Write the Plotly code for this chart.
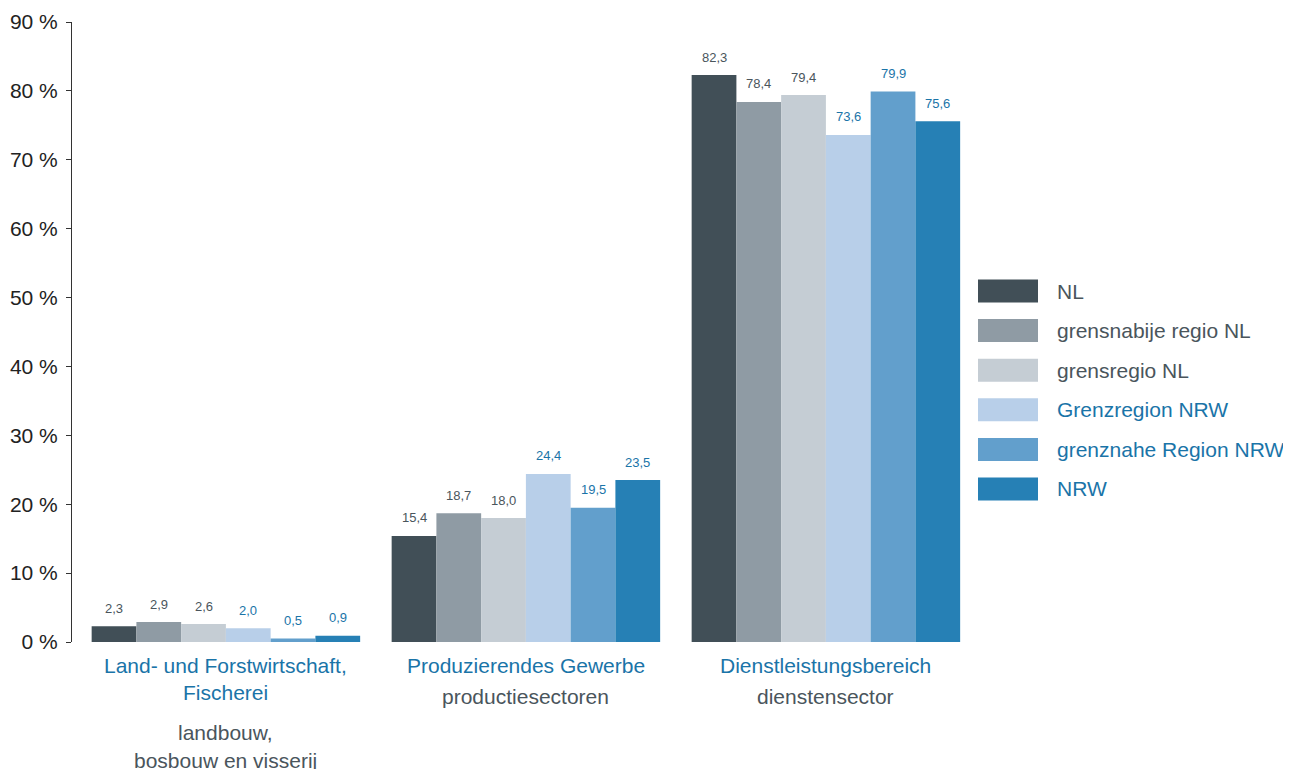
import plotly.graph_objects as go

categories = ["Land- und Forstwirtschaft", "Produzierendes Gewerbe", "Dienstleistungsbereich"]
german_lines = [["Land- und Forstwirtschaft,", "Fischerei"], ["Produzierendes Gewerbe"], ["Dienstleistungsbereich"]]
dutch_lines = [["landbouw,", "bosbouw en visserij"], ["productiesectoren"], ["dienstensector"]]

series_names = ["NL", "grensnabije regio NL", "grensregio NL",
                "Grenzregion NRW", "grenznahe Region NRW", "NRW"]
nl = [2.3, 15.4, 82.3]
grensnabije_nl = [2.9, 18.7, 78.4]
grensregio_nl = [2.6, 18.0, 79.4]
grenzregion_nrw = [2.0, 24.4, 73.6]
grenznahe_nrw = [0.5, 19.5, 79.9]
nrw = [0.9, 23.5, 75.6]
series_values = [nl, grensnabije_nl, grensregio_nl, grenzregion_nrw, grenznahe_nrw, nrw]

y_ticks = [0, 10, 20, 30, 40, 50, 60, 70, 80, 90]
y_tick_labels = [f"{v} %" for v in y_ticks]

bar_colors = ["#414f57", "#8f9ba4", "#c5cdd4", "#b8cfe9", "#629fcc", "#2680b5"]
gray_text = "#4a555c"
blue_text = "#1a74a8"
text_colors = [gray_text, gray_text, gray_text, blue_text, blue_text, blue_text]
FONT = "Liberation Sans, Arial, sans-serif"

# page body has an 8px margin; work in screen pixels and shift
OFF = 8
FIG_W, FIG_H = 1291 - OFF, 769 - OFF
PL, PR, PT, PB = 72, 972, 22, 642  # plot area in screen pixels
W, H = PR - PL, PB - PT
BARGAP = 0.105
N = len(series_names)

def px_x(p):
    return (p - PL) / W
def px_y(p):
    return (PB - p) / H

fig = go.Figure()
x_idx = list(range(len(categories)))
bar_w = (1 - BARGAP) / N
for k, (name, vals, col, tcol) in enumerate(zip(series_names, series_values, bar_colors, text_colors)):
    fig.add_trace(go.Bar(
        x=x_idx, y=vals, name=name, marker=dict(color=col, line=dict(width=0)),
        showlegend=False, hoverinfo="x+y+name",
    ))
    for i, v in zip(x_idx, vals):
        xpos = i - (1 - BARGAP) / 2 + (k + 0.5) * bar_w
        fig.add_annotation(xref="x", yref="y", x=xpos, y=v, yanchor="middle",
                           yshift=18, text=f"{v:.1f}".replace(".", ","), showarrow=False,
                           font=dict(size=13, color=tcol, family=FONT))

# Custom legend (large swatches)
for i, (name, col, tcol) in enumerate(zip(series_names, bar_colors, text_colors)):
    cy = 291 + 39.6 * i
    fig.add_shape(type="rect", xref="paper", yref="paper",
                  x0=px_x(978), x1=px_x(1038), y0=px_y(cy - 11.5), y1=px_y(cy + 11.5),
                  fillcolor=col, line=dict(width=0))
    fig.add_annotation(xref="paper", yref="paper", x=px_x(1055), y=px_y(cy),
                       xanchor="left", yanchor="middle", text=name, showarrow=False,
                       font=dict(size=21, color=tcol, family=FONT))

# Category labels
for i in x_idx:
    g = german_lines[i]
    d = dutch_lines[i]
    for j, line in enumerate(g):
        fig.add_annotation(xref="x", yref="paper", x=i, y=px_y(665 + 27 * j),
                           xanchor="center", yanchor="middle", text=line, showarrow=False,
                           font=dict(size=21, color=blue_text, family=FONT))
    d_start = 696 if len(g) == 1 else 732
    for j, line in enumerate(d):
        fig.add_annotation(xref="x", yref="paper", x=i, y=px_y(d_start + 28 * j),
                           xanchor="center", yanchor="middle", text=line, showarrow=False,
                           font=dict(size=21, color=gray_text, family=FONT))

fig.update_layout(
    width=FIG_W, height=FIG_H,
    margin=dict(l=PL - OFF, r=FIG_W - (PR - OFF), t=PT - OFF, b=FIG_H - (PB - OFF), pad=0),
    paper_bgcolor="white", plot_bgcolor="white",
    barmode="group", bargap=BARGAP, bargroupgap=0,
    font=dict(family=FONT, color="#222222"),
    xaxis=dict(range=[-0.513, 2.487], showticklabels=False, showline=False,
               showgrid=False, zeroline=False, ticks="", automargin=False),
    yaxis=dict(range=[0, 90], tickvals=y_ticks, ticktext=y_tick_labels,
               tickfont=dict(size=21, color="#222222", family=FONT),
               showline=True, linecolor="#333333", linewidth=1,
               ticks="outside", ticklen=5, tickcolor="#333333",
               showgrid=False, zeroline=False, ticklabelstandoff=4,
               automargin=False),
)

fig.write_html("out.html")
